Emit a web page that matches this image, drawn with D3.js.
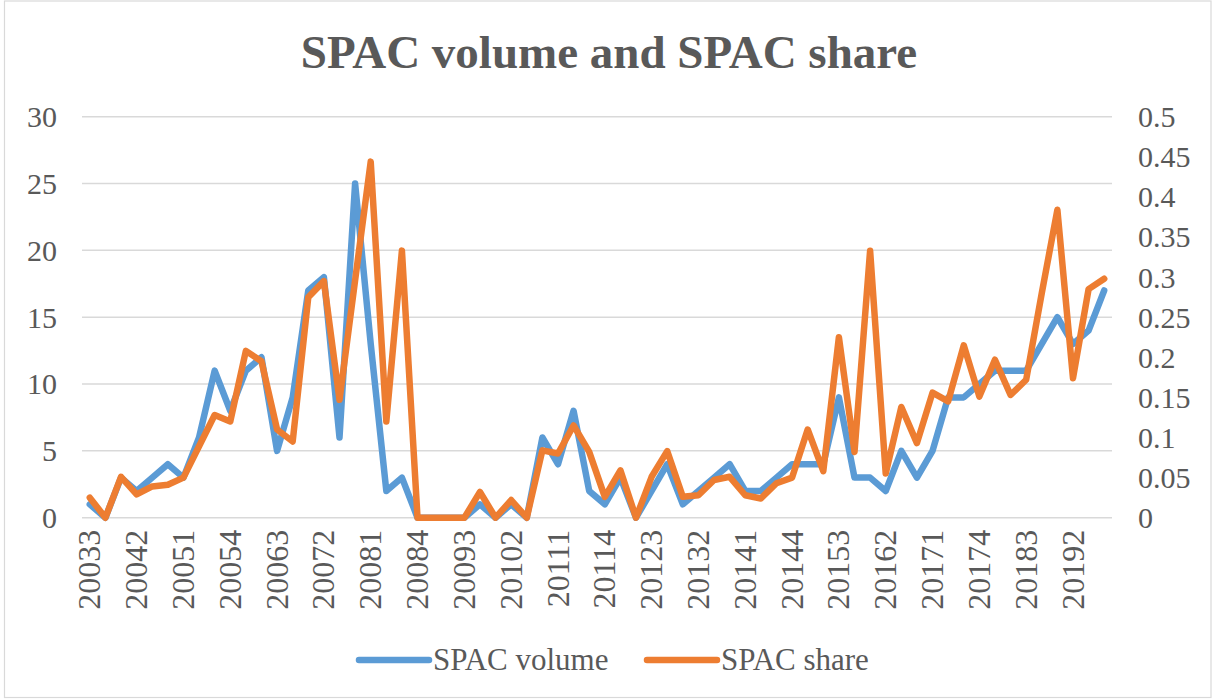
<!DOCTYPE html>
<html>
<head>
<meta charset="utf-8">
<script src="https://cdn.jsdelivr.net/npm/d3@7"></script>
<style>
  body { margin: 0; background: #fff; }
  text { font-family: "Liberation Serif", "Times New Roman", serif; fill: #595959; }
</style>
</head>
<body>
<div id="chart"></div>
<script>
// quarters, written year + quarter number
var quarters = [
  "20033","20034","20041","20042","20043","20044","20051","20052","20053","20054",
  "20061","20062","20063","20064","20071","20072","20073","20074","20081","20082",
  "20083","20084","20091","20092","20093","20094","20101","20102","20103","20104",
  "20111","20112","20113","20114","20121","20122","20123","20124","20131","20132",
  "20133","20134","20141","20142","20143","20144","20151","20152","20153","20154",
  "20161","20162","20163","20164","20171","20172","20173","20174","20181","20182",
  "20183","20184","20191","20192","20193","20194"
];

var spacVolume = [
  1, 0, 3, 2, 3, 4, 3, 6, 11, 8,
  11, 12, 5, 9, 17, 18, 6, 25, 13, 2,
  3, 0, 0, 0, 0, 1, 0, 1, 0, 6,
  4, 8, 2, 1, 3, 0, 2, 4, 1, 2,
  3, 4, 2, 2, 3, 4, 4, 4, 9, 3,
  3, 2, 5, 3, 5, 9, 9, 10, 11, 11,
  11, 13, 15, 13, 14, 17
];

var spacShare = [
  0.025, 0, 0.051, 0.029, 0.039, 0.041, 0.05, 0.089, 0.128, 0.12,
  0.208, 0.195, 0.11, 0.095, 0.275, 0.295, 0.147, 0.296, 0.444, 0.12,
  0.333, 0, 0, 0, 0, 0.032, 0, 0.022, 0, 0.084,
  0.08, 0.115, 0.082, 0.026, 0.059, 0, 0.051, 0.083, 0.026, 0.028,
  0.047, 0.051, 0.028, 0.024, 0.043, 0.05, 0.11, 0.058, 0.225, 0.082,
  0.333, 0.055, 0.138, 0.093, 0.156, 0.145, 0.215, 0.151, 0.197, 0.153,
  0.172, 0.28, 0.384, 0.174, 0.285, 0.298
];

var leftTicks = [0, 5, 10, 15, 20, 25, 30];
var rightTicks = [0, 0.05, 0.1, 0.15, 0.2, 0.25, 0.3, 0.35, 0.4, 0.45, 0.5];

var w = 1213, h = 699;
var plotLeft = 82, plotRight = 1112, plotTop = 116.7, plotBottom = 517.7;
var blue = "#5b9bd5", orange = "#ed7d31";

var svg = d3.select("#chart").append("svg")
  .attr("width", w)
  .attr("height", h);

// chart border
svg.append("rect")
  .attr("x", 4.5).attr("y", 1)
  .attr("width", 1206.5).attr("height", 696.5)
  .attr("fill", "#fff")
  .attr("stroke", "#d9d9d9")
  .attr("stroke-width", 1.2);

var x = d3.scaleBand().domain(quarters).range([plotLeft, plotRight]);
var yL = d3.scaleLinear().domain([0, 30]).range([plotBottom, plotTop]);
var yR = d3.scaleLinear().domain([0, 0.5]).range([plotBottom, plotTop]);
var cx = function(q){ return x(q) + x.bandwidth() / 2; };

// gridlines
svg.append("g")
  .selectAll("line")
  .data(leftTicks)
  .enter().append("line")
  .attr("x1", plotLeft).attr("x2", plotRight)
  .attr("y1", function(d){ return yL(d); })
  .attr("y2", function(d){ return yL(d); })
  .attr("stroke", "#d9d9d9")
  .attr("stroke-width", 1.5);

// left axis
var gL = svg.append("g")
  .attr("transform", "translate(57,0)")
  .call(d3.axisLeft(yL).tickValues(leftTicks).tickSize(0).tickPadding(0));
gL.select(".domain").remove();
gL.selectAll("text").style("font-size", "30px").attr("dy", "0.33em");

// right axis
var gR = svg.append("g")
  .attr("transform", "translate(1138,0)")
  .call(d3.axisRight(yR).tickValues(rightTicks).tickSize(0).tickPadding(0)
    .tickFormat(function(d){ return String(+d.toFixed(2)); }));
gR.select(".domain").remove();
gR.selectAll("text").style("font-size", "30px").attr("dy", "0.33em");

// x axis, every third quarter
var gX = svg.append("g")
  .attr("transform", "translate(0," + plotBottom + ")")
  .call(d3.axisBottom(x)
    .tickValues(quarters.filter(function(d, i){ return i % 3 == 0; }))
    .tickSize(0).tickPadding(0));
gX.select(".domain").remove();
gX.selectAll("text")
  .style("font-size", "32px")
  .style("text-anchor", "end")
  .attr("transform", "rotate(-90)")
  .attr("x", -12)
  .attr("y", 0)
  .attr("dy", "0.33em");

// lines
var lineVol = d3.line()
  .x(function(d, i){ return cx(quarters[i]); })
  .y(function(d){ return yL(d); });
var lineShare = d3.line()
  .x(function(d, i){ return cx(quarters[i]); })
  .y(function(d){ return yR(d); });

svg.append("path")
  .datum(spacVolume)
  .attr("d", lineVol)
  .attr("fill", "none")
  .attr("stroke", blue)
  .attr("stroke-width", 6.5)
  .attr("stroke-linejoin", "round")
  .attr("stroke-linecap", "round");

svg.append("path")
  .datum(spacShare)
  .attr("d", lineShare)
  .attr("fill", "none")
  .attr("stroke", orange)
  .attr("stroke-width", 6.5)
  .attr("stroke-linejoin", "round")
  .attr("stroke-linecap", "round");

// title
svg.append("text")
  .attr("x", 609)
  .attr("y", 68)
  .attr("text-anchor", "middle")
  .style("font-size", "47px")
  .style("font-weight", "bold")
  .text("SPAC volume and SPAC share");

// legend
var legend = [
  {name: "SPAC volume", color: blue, x: 359},
  {name: "SPAC share", color: orange, x: 647}
];
var lg = svg.append("g").selectAll("g")
  .data(legend)
  .enter().append("g")
  .attr("transform", function(d){ return "translate(" + d.x + ",660)"; });
lg.append("line")
  .attr("x1", 0).attr("x2", 70)
  .attr("stroke", function(d){ return d.color; })
  .attr("stroke-width", 6.5)
  .attr("stroke-linecap", "round");
lg.append("text")
  .attr("x", 74)
  .attr("dy", "0.33em")
  .style("font-size", "31px")
  .text(function(d){ return d.name; });
</script>
</body>
</html>
